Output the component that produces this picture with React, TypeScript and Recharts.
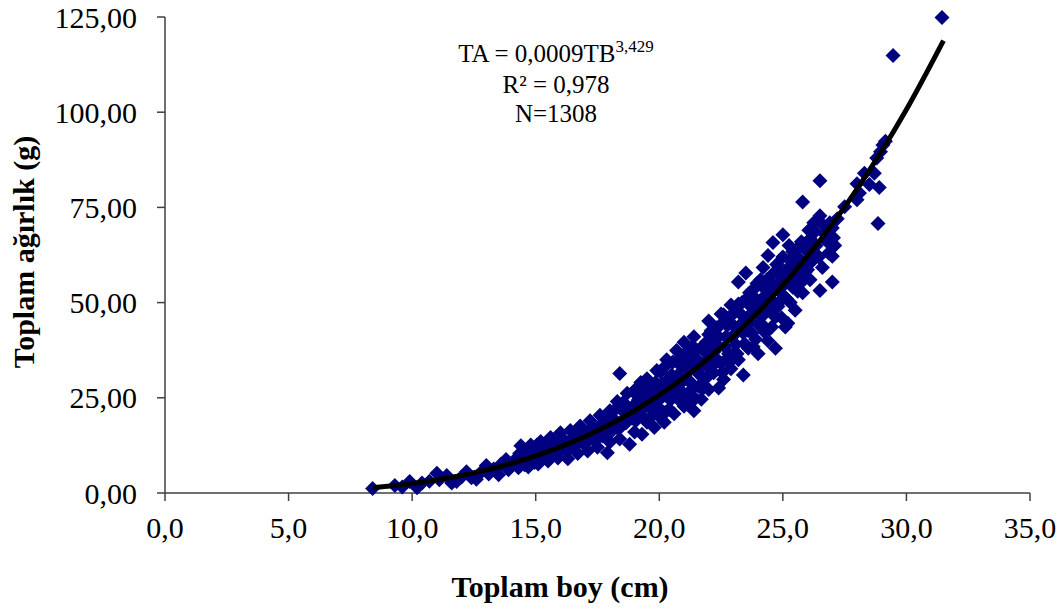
import { ScatterChart, Scatter, XAxis, YAxis } from "recharts";

// Toplam boy (cm) / toplam ağırlık (g) readings, grouped by length class
const fishSmall: [number, number][] = [
  [8.4, 1.2], [9.3, 2.0], [9.6, 1.6], [9.9, 3.0], [10.2, 1.4], [10.4, 2.6], [10.7, 3.1],
  [11.0, 5.2], [11.1, 3.5], [11.4, 4.6], [11.6, 2.6], [11.8, 3.0], [12.0, 4.2], [12.2, 5.6],
  [12.4, 4.0], [12.6, 3.6], [12.8, 5.5], [13.0, 7.2], [13.1, 5.0], [13.3, 6.3], [13.5, 4.8],
  [13.6, 7.6], [13.8, 8.8], [13.9, 6.1], [14.0, 7.4],
];

const fishMedium: [number, number][] = [
  [14.2, 9.0], [14.3, 6.6], [14.4, 12.4], [14.5, 8.2], [14.6, 10.1], [14.7, 6.8], [14.8, 12.6],
  [14.9, 9.4], [15.0, 11.0], [15.1, 7.6], [15.2, 13.5], [15.3, 9.8], [15.4, 12.0], [15.5, 8.4],
  [15.6, 14.6], [15.7, 10.6], [15.8, 12.8], [15.9, 9.2], [16.0, 15.8], [16.1, 11.6], [16.2, 13.6],
  [16.3, 9.0], [16.4, 16.4], [16.5, 12.4], [16.6, 14.8], [16.7, 10.4], [16.8, 17.6], [16.9, 13.2],
  [17.0, 15.4], [17.1, 11.0], [17.2, 19.0], [17.3, 14.2], [17.4, 16.6], [17.5, 12.0], [17.6, 20.4],
  [17.7, 15.0], [17.8, 17.8], [17.9, 10.6], [18.0, 21.6], [18.0, 13.4],
  [14.1, 8.0], [14.35, 10.4], [14.55, 7.4], [14.75, 9.6], [14.95, 8.0], [15.05, 12.6], [15.25, 11.0],
  [15.45, 10.2], [15.65, 12.0], [15.85, 10.8], [16.05, 13.8], [16.25, 11.0], [16.45, 14.2],
  [16.65, 12.6], [16.85, 15.6], [17.05, 13.2], [17.25, 16.8], [17.45, 14.0], [17.65, 18.0],
  [17.85, 14.4], [17.95, 19.6],
];

const fishLarge: [number, number][] = [
  [18.1, 16.4], [18.2, 19.2], [18.3, 24.0], [18.4, 31.4], [18.4, 14.2], [18.5, 17.8], [18.6, 21.0],
  [18.7, 26.2], [18.8, 12.8], [18.9, 19.6], [19.0, 23.2], [19.0, 16.0], [19.1, 27.6], [19.2, 21.4],
  [19.3, 15.4], [19.4, 25.0], [19.5, 30.0], [19.5, 18.6], [19.6, 22.6], [19.7, 27.0], [19.8, 17.2],
  [19.9, 32.2], [20.0, 24.6], [20.0, 20.0], [20.1, 28.6], [20.2, 18.6], [20.3, 35.0], [20.3, 26.4],
  [20.4, 22.0], [20.5, 31.0], [20.6, 20.8], [20.7, 37.4], [20.7, 28.0], [20.8, 24.4], [20.9, 33.2],
  [21.0, 22.8], [21.0, 39.6], [21.1, 30.0], [21.2, 26.4], [21.3, 35.6], [21.4, 21.6], [21.4, 41.0],
  [21.5, 32.0], [21.6, 28.0], [21.7, 24.6], [21.7, 38.2], [21.8, 34.0], [21.9, 30.2], [22.0, 45.2],
  [22.0, 27.2], [22.0, 41.6],
  [18.05, 18.6], [18.25, 22.2], [18.35, 16.8], [18.55, 23.8], [18.65, 18.4], [18.85, 22.0],
  [18.95, 26.6], [19.05, 19.0], [19.15, 24.4], [19.25, 29.0], [19.35, 19.8], [19.45, 22.8],
  [19.65, 25.4], [19.75, 20.6], [19.85, 29.0], [19.95, 22.6], [20.05, 31.8], [20.15, 25.4],
  [20.25, 21.2], [20.35, 29.8], [20.45, 24.4], [20.55, 34.4], [20.65, 25.6], [20.75, 31.0],
  [20.85, 27.0], [20.95, 36.0], [21.05, 25.0], [21.15, 33.4], [21.25, 29.2], [21.35, 38.4],
  [21.45, 24.8], [21.55, 35.0], [21.65, 31.0], [21.75, 27.4], [21.85, 37.0], [21.95, 33.0],
  [19.1, 21.0], [19.3, 26.2], [19.55, 27.8], [19.8, 24.0], [20.0, 27.0], [20.2, 33.0],
  [20.4, 28.0], [20.6, 30.2], [20.8, 35.0], [20.9, 29.0], [21.1, 37.0], [21.2, 32.0],
  [21.3, 27.2], [21.5, 37.6], [21.6, 33.6], [21.8, 30.0], [21.9, 39.6], [21.2, 23.4],
  [20.5, 26.4], [19.9, 26.0],
];

const fishXL: [number, number][] = [
  [22.1, 36.0], [22.2, 31.6], [22.3, 43.4], [22.4, 27.6], [22.4, 38.4], [22.5, 34.0], [22.6, 46.8],
  [22.6, 29.8], [22.7, 41.0], [22.8, 36.6], [22.9, 49.4], [22.9, 32.6], [23.0, 44.0], [23.1, 39.0],
  [23.2, 55.4], [23.2, 35.0], [23.3, 47.0], [23.4, 31.0], [23.4, 42.0], [23.5, 57.8], [23.5, 50.8],
  [23.6, 38.0], [23.7, 45.2], [23.8, 53.4], [23.9, 40.4], [24.0, 48.6], [24.0, 36.6], [24.1, 56.0],
  [24.2, 59.2], [24.2, 44.0], [24.3, 51.6], [24.4, 62.4], [24.4, 40.0], [24.5, 47.6], [24.6, 65.8],
  [24.6, 54.6], [24.7, 38.0], [24.7, 46.2], [24.8, 58.0], [24.9, 50.4], [25.0, 67.8], [25.0, 62.0],
  [25.1, 43.6], [25.1, 55.0], [25.2, 44.6], [25.3, 61.2], [25.3, 50.0], [25.4, 63.4], [25.5, 57.0],
  [25.6, 53.0], [25.7, 60.0], [25.8, 56.6], [25.8, 52.6], [25.8, 76.4], [25.9, 64.0], [26.0, 64.6],
  [26.0, 58.6],
  [22.05, 39.0], [22.15, 33.4], [22.25, 40.6], [22.35, 35.0], [22.45, 44.0], [22.55, 31.6],
  [22.65, 38.4], [22.75, 44.0], [22.85, 34.4], [22.95, 41.0], [23.05, 47.4], [23.15, 36.6],
  [23.25, 43.0], [23.35, 50.0], [23.45, 39.2], [23.55, 46.0], [23.65, 52.6], [23.75, 42.0],
  [23.85, 48.0], [23.95, 55.0], [24.05, 44.0], [24.15, 51.0], [24.25, 47.0], [24.35, 56.0],
  [24.45, 53.0], [24.55, 43.6], [24.65, 50.0], [24.75, 60.0], [24.85, 53.6], [24.95, 46.0],
  [25.05, 58.0], [25.15, 51.0], [25.25, 65.0], [25.35, 56.0], [25.45, 60.0], [25.55, 64.0],
  [25.65, 57.0], [25.75, 66.0], [25.95, 61.0],
  [22.1, 42.6], [22.2, 37.0], [22.4, 41.0], [22.5, 47.0], [22.7, 35.0], [22.8, 46.0],
  [23.0, 36.6], [23.1, 42.0], [23.2, 49.6], [23.4, 45.0], [23.6, 42.6], [23.7, 49.0],
  [23.8, 38.4], [23.9, 51.0], [24.1, 46.4], [24.2, 54.0], [24.3, 42.0], [24.4, 49.2],
  [24.6, 57.6], [24.8, 49.0], [24.9, 55.6], [25.0, 52.0], [25.2, 59.0], [25.4, 54.0],
  [25.5, 48.0], [25.6, 62.0], [25.7, 55.0], [25.9, 58.0],
];

const fishXXL: [number, number][] = [
  [26.1, 66.8], [26.2, 61.0], [26.3, 68.6], [26.5, 82.0], [26.5, 72.8], [26.5, 53.2], [26.6, 59.2],
  [26.6, 70.6], [26.8, 66.0], [27.0, 69.6], [27.0, 62.2], [27.0, 55.4], [27.1, 65.0], [27.2, 72.0],
  [27.5, 75.2], [28.0, 81.2], [28.0, 77.0], [28.1, 78.8], [28.3, 84.0], [28.5, 81.0], [28.7, 84.0],
  [28.8, 88.0], [28.85, 70.8], [28.9, 80.2], [28.95, 89.6], [29.05, 91.4], [29.15, 92.4],
  [29.46, 114.9], [31.44, 124.9],
  [26.05, 69.0], [26.15, 63.0], [26.25, 71.0], [26.35, 65.0], [26.45, 62.0], [26.7, 68.0],
  [26.85, 63.0], [26.9, 71.0], [27.05, 67.0], [26.1, 56.0], [26.3, 63.0],
];

// fitted curve
const curveTB = [8.4, 10, 12, 14, 16, 18, 20, 22, 24, 26, 28, 30, 31.5];
const curveTA = [1.4, 2.5, 4.6, 7.7, 12.1, 18.0, 25.7, 35.4, 47.5, 62.2, 79.8, 100.7, 118.8];

const xTicks = [0, 5, 10, 15, 20, 25, 30, 35];
const yTicks = [0, 25, 50, 75, 100, 125];

const points = [...fishSmall, ...fishMedium, ...fishLarge, ...fishXL, ...fishXXL].map(
  ([x, y]) => ({ x, y })
);
const curve = curveTB.map((x, i) => ({ x, y: curveTA[i] }));

const font = '"Liberation Serif", "Times New Roman", serif';

const Diamond = (props: any) => {
  const { cx, cy } = props;
  if (cx == null || cy == null) return <g />;
  const r = 7.5;
  return (
    <polygon
      points={`${cx},${cy - r} ${cx + r},${cy} ${cx},${cy + r} ${cx - r},${cy}`}
      fill="#000080"
    />
  );
};

export default function App() {
  return (
    <div style={{ position: "absolute", left: 0, top: 0, width: 1062, height: 613 }}>
      <ScatterChart
        width={1062}
        height={613}
        margin={{ top: 17, right: 32, left: 0, bottom: 0 }}
      >
        <XAxis
          type="number"
          dataKey="x"
          domain={[0, 35]}
          ticks={xTicks}
          tickFormatter={(v: number) => v.toFixed(1).replace(".", ",")}
          height={120}
          tickSize={8}
          tickMargin={16}
          stroke="#404040"
          strokeWidth={1.5}
          tick={{ fill: "#000", fontSize: 30, fontFamily: font }}
        />
        <YAxis
          type="number"
          dataKey="y"
          domain={[0, 125]}
          ticks={yTicks}
          tickFormatter={(v: number) => v.toFixed(2).replace(".", ",")}
          width={165}
          tickSize={8}
          tickMargin={20}
          stroke="#404040"
          strokeWidth={1.5}
          tick={{ fill: "#000", fontSize: 30, fontFamily: font }}
        />
        <Scatter data={points} shape={Diamond} isAnimationActive={false} />
        <Scatter
          data={curve}
          shape={() => <g />}
          line={{ stroke: "#000", strokeWidth: 5 }}
          lineJointType="monotone"
          isAnimationActive={false}
        />
      </ScatterChart>
      <svg
        width={1062}
        height={613}
        style={{ position: "absolute", left: 0, top: 0, pointerEvents: "none" }}
      >
        <text x={560} y={597} textAnchor="middle" fontFamily={font} fontWeight="bold" fontSize={30}>
          Toplam boy (cm)
        </text>
        <text
          x={34}
          y={252}
          textAnchor="middle"
          fontFamily={font}
          fontWeight="bold"
          fontSize={30}
          transform="rotate(-90, 34, 252)"
        >
          Toplam ağırlık (g)
        </text>
        <text x={556} y={62} textAnchor="middle" fontFamily={font} fontSize={25}>
          TA  = 0,0009TB
          <tspan fontSize={17} dy={-10}>3,429</tspan>
        </text>
        <text x={556} y={93} textAnchor="middle" fontFamily={font} fontSize={25}>
          R² = 0,978
        </text>
        <text x={556} y={122} textAnchor="middle" fontFamily={font} fontSize={25}>
          N=1308
        </text>
      </svg>
    </div>
  );
}
